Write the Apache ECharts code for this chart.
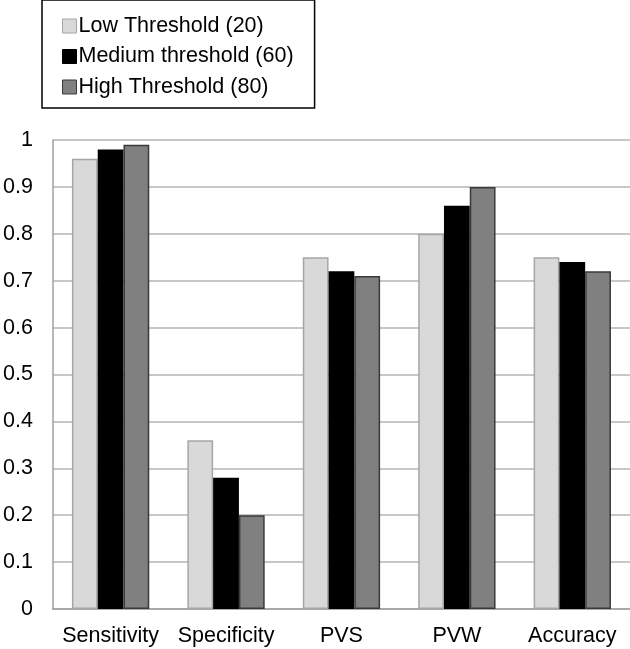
<!DOCTYPE html>
<html><head><meta charset="utf-8">
<script src="https://cdn.jsdelivr.net/npm/echarts@6/dist/echarts.min.js"></script>
<style>html,body{margin:0;padding:0;background:#fff}#c{width:630px;height:649px}</style>
</head><body><div id="c"></div>
<script>
const categories = ['Sensitivity', 'Specificity', 'PVS', 'PVW', 'Accuracy'];
const seriesNames = ['Low Threshold (20)', 'Medium threshold (60)', 'High Threshold (80)'];
const lowValues = [0.96, 0.36, 0.75, 0.80, 0.75];
const mediumValues = [0.98, 0.28, 0.72, 0.86, 0.74];
const highValues = [0.99, 0.20, 0.71, 0.90, 0.72];
const yTicks = [0, 0.1, 0.2, 0.3, 0.4, 0.5, 0.6, 0.7, 0.8, 0.9, 1];

const font = 'Liberation Sans, Arial, sans-serif';
const styles = [
  {color: '#d9d9d9', borderColor: '#a6a6a6'},
  {color: '#000000', borderColor: '#000000'},
  {color: '#808080', borderColor: '#3a3a3a'}
];
const dataSets = [lowValues, mediumValues, highValues];
const chart = echarts.init(document.getElementById('c'), null, {renderer: 'canvas'});
chart.setOption({
  backgroundColor: '#fff',
  animation: false,
  legend: {
    orient: 'vertical',
    left: 42, top: 0,
    padding: [15, 21, 10, 20],
    itemGap: 8.5,
    itemWidth: 14, itemHeight: 14,
    icon: 'rect',
    itemStyle: {borderWidth: 1},
    borderColor: '#000', borderWidth: 1.5,
    textStyle: {fontFamily: font, fontSize: 21.5, color: '#000', padding: [0, 0, 0, -3], lineHeight: 22},
    data: seriesNames
  },
  grid: {left: 50, top: 140, right: 0, bottom: 40, containLabel: false},
  xAxis: {
    type: 'category', data: categories,
    axisLine: {lineStyle: {color: '#a0a0a0', width: 1.5}},
    axisTick: {show: false},
    axisLabel: {fontFamily: font, fontSize: 21.5, color: '#000', margin: 16, interval: 0}
  },
  yAxis: {
    type: 'value', min: 0, max: 1, interval: 0.1,
    axisLine: {show: true, lineStyle: {color: '#a0a0a0', width: 1.5}},
    axisTick: {show: false},
    splitLine: {lineStyle: {color: '#b4b4b4', width: 1.5}},
    axisLabel: {fontFamily: font, fontSize: 21.5, color: '#000', margin: 20,
      formatter: v => { const t = yTicks.find(x => Math.abs(x - v) < 1e-9); return String(t !== undefined ? t : v); }}
  },
  series: dataSets.map((d, i) => ({
    name: seriesNames[i], type: 'bar', data: d,
    barGap: '0%', barCategoryGap: '33%',
    itemStyle: {color: styles[i].color, borderColor: styles[i].borderColor, borderWidth: 1.5}
  }))
});
</script></body></html>
